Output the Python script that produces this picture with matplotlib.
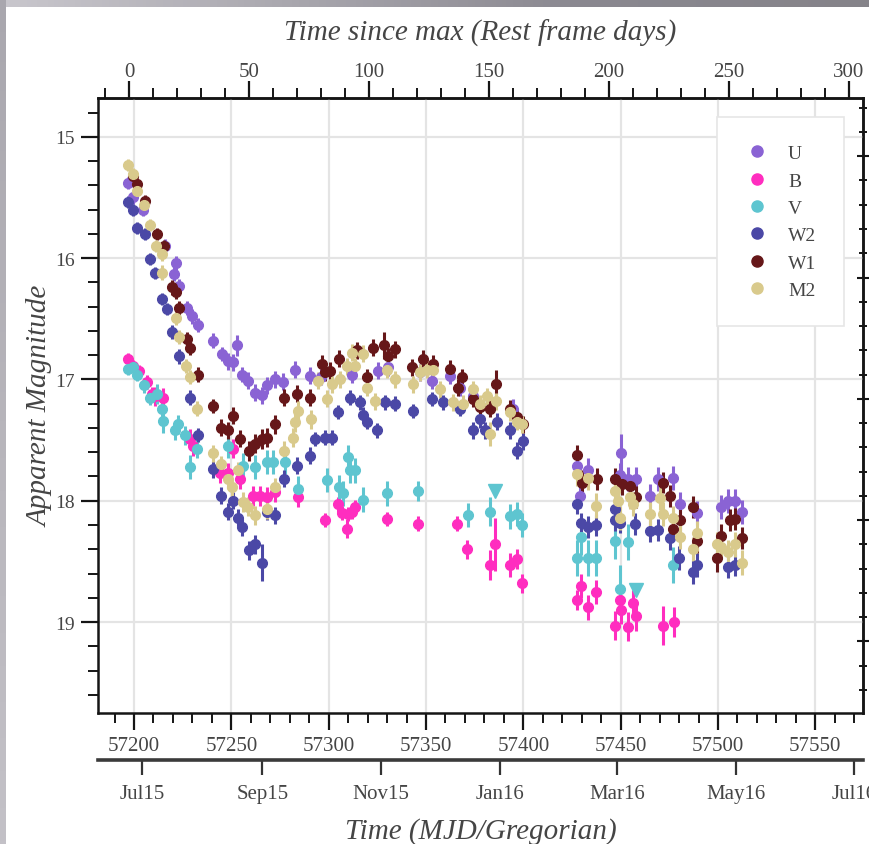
import datetime as dt
import numpy as np
import matplotlib
matplotlib.use('Agg')
import matplotlib.pyplot as plt
from matplotlib.lines import Line2D
from matplotlib.ticker import MultipleLocator, NullLocator
from matplotlib.colors import LinearSegmentedColormap

plt.rcParams['font.family'] = ['Liberation Serif', 'DejaVu Serif']

# ---------------- data ----------------
T0 = 57197.5      # MJD of maximum
Z = 0.2326        # redshift for rest-frame axis
MU_OFFSET = 41.16 # offset of right-hand magnitude ticks

band_names = ['U', 'B', 'V', 'W2', 'W1', 'M2']
band_colors = ['#8a63d4', '#ff2dbf', '#5ec5d0', '#4b48a6', '#661719', '#d9ca8c']

u_mjd = [57196.8, 57199.6, 57204.8, 57215.9, 57220.5, 57221.6, 57223.3, 57227.4, 57229.6, 57232.7,
         57240.7, 57245.0, 57248.4, 57251.0, 57253.1, 57255.3, 57258.7, 57262.1, 57265.6, 57268.2,
         57272.4, 57276.7, 57282.7, 57290.4, 57296.0, 57311.8, 57325.5, 57330.6, 57346.9, 57352.9,
         57362.3, 57367.4, 57374.3, 57394.8, 57427.7, 57429.1, 57433.3, 57450.0, 57449.6, 57453.9,
         57457.8, 57465.0, 57469.3, 57477.0, 57480.4, 57489.0, 57501.8, 57505.2, 57508.7, 57512.1]
u_mag = [15.38, 15.50, 15.60, 15.90, 16.13, 16.04, 16.23, 16.41, 16.48, 16.55,
         16.68, 16.79, 16.85, 16.86, 16.72, 16.96, 17.01, 17.11, 17.13, 17.05,
         17.00, 17.02, 16.92, 16.97, 16.98, 16.96, 16.93, 16.90, 16.94, 17.01,
         16.97, 17.07, 17.14, 17.24, 17.71, 17.96, 17.75, 17.61, 17.79, 17.82,
         17.82, 17.96, 17.82, 17.81, 18.03, 18.10, 18.05, 18.00, 18.00, 18.09]
u_err = [0.05, 0.05, 0.05, 0.06, 0.06, 0.06, 0.06, 0.06, 0.06, 0.06,
         0.06, 0.06, 0.07, 0.07, 0.09, 0.06, 0.07, 0.07, 0.07, 0.07,
         0.07, 0.07, 0.07, 0.07, 0.07, 0.07, 0.07, 0.07, 0.07, 0.07,
         0.07, 0.07, 0.07, 0.08, 0.10, 0.10, 0.10, 0.16, 0.10, 0.10,
         0.10, 0.10, 0.10, 0.10, 0.10, 0.10, 0.10, 0.10, 0.10, 0.10]

b_mjd = [57196.8, 57199.6, 57202.7, 57206.5, 57209.1, 57210.8, 57215.0, 57228.8, 57230.5, 57244.2,
         57248.4, 57251.0, 57254.4, 57261.3, 57264.7, 57268.2, 57272.4, 57284.4, 57298.1, 57304.9,
         57306.7, 57309.2, 57309.9, 57311.8, 57313.5, 57329.8, 57346.0, 57365.7, 57370.9, 57382.8,
         57385.4, 57393.1, 57396.6, 57399.1, 57427.4, 57429.4, 57433.3, 57437.3, 57447.0, 57449.6,
         57450.1, 57453.9, 57456.1, 57457.8, 57471.9, 57477.3]
b_mag = [16.83, 16.89, 16.93, 17.02, 17.12, 17.14, 17.15, 17.49, 17.55, 17.77,
         17.77, 17.57, 17.82, 17.96, 17.96, 17.97, 17.93, 17.97, 18.16, 18.03,
         18.10, 18.23, 18.11, 18.09, 18.05, 18.15, 18.19, 18.19, 18.40, 18.53,
         18.36, 18.53, 18.48, 18.68, 18.82, 18.70, 18.88, 18.75, 19.03, 18.82,
         18.90, 19.04, 18.84, 18.95, 19.03, 19.00]
b_err = [0.05, 0.05, 0.05, 0.06, 0.06, 0.08, 0.08, 0.08, 0.08, 0.08,
         0.08, 0.08, 0.08, 0.08, 0.08, 0.08, 0.08, 0.08, 0.06, 0.06,
         0.06, 0.08, 0.06, 0.06, 0.06, 0.06, 0.06, 0.06, 0.08, 0.12,
         0.22, 0.10, 0.08, 0.08, 0.08, 0.10, 0.10, 0.10, 0.12, 0.12,
         0.12, 0.12, 0.10, 0.12, 0.16, 0.12]

v_mjd = [57196.8, 57199.6, 57201.4, 57205.3, 57208.2, 57211.7, 57214.2, 57214.9, 57221.1, 57222.8,
         57226.2, 57228.8, 57232.2, 57248.4, 57256.1, 57262.1, 57268.2, 57271.5, 57277.6, 57284.4,
         57299.0, 57305.5, 57307.5, 57310.1, 57310.9, 57313.5, 57317.8, 57329.8, 57346.0, 57371.4,
         57382.8, 57393.1, 57396.6, 57399.1, 57427.4, 57429.4, 57433.3, 57437.3, 57447.0, 57449.6,
         57453.9, 57477.0]
v_mag = [16.91, 16.90, 16.96, 17.05, 17.15, 17.12, 17.24, 17.34, 17.42, 17.37,
         17.46, 17.72, 17.57, 17.55, 17.71, 17.72, 17.68, 17.68, 17.68, 17.90,
         17.83, 17.89, 17.94, 17.64, 17.75, 17.75, 17.99, 17.94, 17.92, 18.12,
         18.09, 18.13, 18.11, 18.20, 18.47, 18.30, 18.47, 18.47, 18.33, 18.73,
         18.34, 18.53]
v_err = [0.05, 0.05, 0.05, 0.06, 0.06, 0.08, 0.08, 0.10, 0.08, 0.08,
         0.08, 0.10, 0.08, 0.10, 0.10, 0.10, 0.10, 0.10, 0.10, 0.10,
         0.10, 0.10, 0.10, 0.10, 0.10, 0.10, 0.10, 0.10, 0.08, 0.10,
         0.12, 0.10, 0.10, 0.10, 0.15, 0.15, 0.15, 0.15, 0.15, 0.20,
         0.15, 0.15]
vlim_mjd = [57385.4, 57457.8]
vlim_mag = [17.92, 18.74]

w2_mjd = [57196.8, 57199.6, 57201.4, 57205.6, 57208.2, 57210.8, 57214.2, 57216.8, 57219.4, 57223.3,
          57228.8, 57232.7, 57240.7, 57244.5, 57248.4, 57251.0, 57253.6, 57255.3, 57259.1, 57262.1,
          57265.6, 57268.2, 57272.4, 57277.2, 57283.6, 57290.4, 57293.0, 57298.1, 57301.5, 57304.9,
          57310.9, 57316.1, 57317.8, 57319.5, 57324.7, 57328.9, 57334.1, 57343.5, 57352.9, 57358.9,
          57367.4, 57374.3, 57377.7, 57380.3, 57386.3, 57393.1, 57396.6, 57399.6,
          57427.4, 57429.4, 57433.3, 57437.3, 57447.0, 57447.3, 57449.6, 57457.3, 57465.0, 57469.3,
          57475.3, 57480.1, 57487.3, 57489.0, 57505.2, 57508.7]
w2_mag = [15.54, 15.60, 15.75, 15.80, 16.01, 16.12, 16.34, 16.42, 16.61, 16.81,
          17.15, 17.46, 17.74, 17.96, 18.09, 18.00, 18.14, 18.22, 18.41, 18.36,
          18.51, 18.09, 18.12, 17.82, 17.71, 17.63, 17.49, 17.48, 17.48, 17.27,
          17.15, 17.19, 17.29, 17.35, 17.42, 17.19, 17.20, 17.26, 17.16, 17.19,
          17.24, 17.42, 17.33, 17.42, 17.35, 17.42, 17.59, 17.51,
          18.03, 18.18, 18.22, 18.20, 18.07, 18.16, 18.18, 18.19, 18.25, 18.24,
          18.31, 18.47, 18.59, 18.53, 18.55, 18.53]
w2_err = [0.05, 0.05, 0.05, 0.05, 0.05, 0.05, 0.05, 0.05, 0.06, 0.06,
          0.06, 0.06, 0.07, 0.07, 0.07, 0.07, 0.07, 0.07, 0.08, 0.08,
          0.15, 0.07, 0.07, 0.07, 0.07, 0.07, 0.06, 0.06, 0.06, 0.06,
          0.06, 0.06, 0.06, 0.06, 0.06, 0.06, 0.06, 0.06, 0.06, 0.06,
          0.06, 0.07, 0.07, 0.07, 0.07, 0.07, 0.07, 0.07,
          0.08, 0.08, 0.09, 0.09, 0.09, 0.09, 0.09, 0.09, 0.09, 0.09,
          0.10, 0.10, 0.10, 0.10, 0.09, 0.09]

w1_mjd = [57199.6, 57201.4, 57205.6, 57211.7, 57215.4, 57219.4, 57221.6, 57223.3, 57227.4, 57228.8,
          57232.7, 57240.7, 57244.5, 57248.4, 57250.7, 57254.4, 57259.2, 57262.1, 57265.6, 57268.2,
          57272.4, 57277.0, 57283.6, 57290.4, 57296.4, 57298.1, 57300.7, 57305.5, 57314.4, 57319.5,
          57322.9, 57328.4, 57330.6, 57334.1, 57342.6, 57348.6, 57353.7, 57362.3, 57366.6, 57368.3,
          57374.3, 57377.7, 57382.8, 57385.9, 57393.1, 57396.6, 57400.0,
          57427.4, 57430.0, 57437.7, 57447.0, 57450.5, 57454.7, 57458.1, 57471.7, 57475.3, 57477.0,
          57480.4, 57487.3, 57489.0, 57499.3, 57501.8, 57506.1, 57508.7, 57512.1]
w1_mag = [15.32, 15.39, 15.53, 15.80, 15.90, 16.24, 16.28, 16.41, 16.67, 16.74,
          16.96, 17.22, 17.40, 17.42, 17.30, 17.49, 17.59, 17.53, 17.49, 17.48,
          17.37, 17.15, 17.12, 17.15, 16.87, 16.94, 16.93, 16.83, 16.76, 16.98,
          16.74, 16.72, 16.81, 16.75, 16.90, 16.83, 16.87, 16.91, 17.07, 16.98,
          17.16, 17.23, 17.24, 17.04, 17.24, 17.31, 17.37,
          17.62, 17.85, 17.82, 17.82, 17.86, 17.88, 17.97, 17.85, 17.96, 18.23,
          18.16, 18.05, 18.33, 18.47, 18.29, 18.16, 18.15, 18.31]
w1_err = [0.05, 0.05, 0.05, 0.05, 0.05, 0.06, 0.06, 0.06, 0.06, 0.06,
          0.06, 0.06, 0.07, 0.07, 0.07, 0.07, 0.08, 0.08, 0.08, 0.08,
          0.08, 0.07, 0.07, 0.07, 0.07, 0.07, 0.07, 0.07, 0.07, 0.07,
          0.07, 0.11, 0.07, 0.07, 0.07, 0.07, 0.07, 0.07, 0.07, 0.07,
          0.07, 0.07, 0.07, 0.12, 0.07, 0.07, 0.07,
          0.08, 0.10, 0.09, 0.09, 0.09, 0.09, 0.09, 0.09, 0.09, 0.09,
          0.09, 0.09, 0.10, 0.12, 0.10, 0.09, 0.09, 0.09]

m2_mjd = [57196.8, 57199.3, 57201.4, 57205.3, 57208.2, 57211.3, 57214.2, 57214.5, 57221.6, 57223.3,
          57226.7, 57228.8, 57232.2, 57240.7, 57244.5, 57248.4, 57250.2, 57253.6, 57256.1, 57258.7,
          57262.1, 57268.2, 57272.4, 57277.0, 57281.8, 57282.7, 57284.4, 57290.8, 57294.7, 57299.0,
          57301.5, 57305.8, 57309.2, 57311.8, 57313.5, 57317.8, 57319.5, 57323.8, 57329.8, 57334.1,
          57343.5, 57346.9, 57350.3, 57353.7, 57357.2, 57364.0, 57369.1, 57374.3, 57377.7, 57381.1,
          57382.8, 57385.9, 57393.1, 57396.6, 57399.1,
          57427.7, 57433.3, 57437.3, 57447.0, 57448.7, 57449.6, 57454.7, 57456.4, 57465.0, 57470.1,
          57471.9, 57477.0, 57480.4, 57487.3, 57489.0, 57499.3, 57501.8, 57505.2, 57508.7, 57512.1]
m2_mag = [15.23, 15.31, 15.45, 15.56, 15.73, 15.90, 15.97, 16.12, 16.49, 16.65,
          16.89, 16.98, 17.24, 17.61, 17.70, 17.82, 17.89, 17.75, 18.01, 18.05,
          18.12, 18.07, 17.89, 17.59, 17.48, 17.35, 17.26, 17.33, 17.01, 17.16,
          17.04, 17.00, 16.89, 16.78, 16.89, 16.79, 17.07, 17.18, 16.92, 17.00,
          17.04, 16.94, 16.92, 16.92, 17.08, 17.19, 17.20, 17.08, 17.20, 17.14,
          17.45, 17.18, 17.27, 17.35, 17.37,
          17.78, 17.81, 18.04, 17.92, 18.00, 18.14, 17.97, 18.03, 18.11, 17.98,
          18.11, 18.14, 18.30, 18.40, 18.27, 18.36, 18.38, 18.42, 18.36, 18.51]
m2_err = [0.05, 0.05, 0.05, 0.05, 0.05, 0.05, 0.05, 0.06, 0.06, 0.06,
          0.06, 0.06, 0.06, 0.07, 0.07, 0.08, 0.08, 0.07, 0.08, 0.08,
          0.08, 0.08, 0.08, 0.08, 0.08, 0.08, 0.08, 0.08, 0.07, 0.07,
          0.07, 0.07, 0.07, 0.07, 0.07, 0.07, 0.07, 0.07, 0.07, 0.07,
          0.07, 0.07, 0.07, 0.07, 0.07, 0.07, 0.07, 0.07, 0.07, 0.07,
          0.10, 0.07, 0.07, 0.07, 0.07,
          0.10, 0.10, 0.10, 0.10, 0.10, 0.10, 0.10, 0.10, 0.10, 0.10,
          0.10, 0.10, 0.10, 0.10, 0.10, 0.10, 0.10, 0.10, 0.10, 0.10]

greg_dates = ['2015-07-01', '2015-09-01', '2015-11-01', '2016-01-01',
              '2016-03-01', '2016-05-01', '2016-07-01']
greg_labels = ['Jul15', 'Sep15', 'Nov15', 'Jan16', 'Mar16', 'May16', 'Jul16']

# ---------------- figure ----------------
TXT = '#454545'
SPINE = '#151515'
W, H = 869, 845
fig = plt.figure(figsize=(W / 100, H / 100), dpi=100)

# screenshot-like grey frame (top and left strips)
grad = np.linspace(0, 1, 256)[None, :]
axt = fig.add_axes([0, 1 - 8 / H, 1, 8 / H], zorder=-5)
cm_top = LinearSegmentedColormap.from_list('top', ['#c9c7cd', '#a9a7ae', '#8a8890', '#858389'])
axt.imshow(grad, aspect='auto', cmap=cm_top, extent=[0, 1, 0, 1])
axt.set_axis_off()
axl = fig.add_axes([0, 0, 6 / W, 1], zorder=-5)
cm_left = LinearSegmentedColormap.from_list('left', ['#a9a7ae', '#b7b5bb', '#c3c1c7'])
axl.imshow(grad.T, aspect='auto', cmap=cm_left, extent=[0, 1, 0, 1])
axl.set_axis_off()

L, R, T, B = 98, 863, 99, 714
ax = fig.add_axes([L / W, (H - B) / H, (R - L) / W, (B - T) / H])
ax.set_xlim(57181.5, 57574.5)
ax.set_ylim(19.75, 14.68)
ax.set_axisbelow(True)
ax.grid(True, which='major', color='#e4e4e4', lw=1.6)

series = [
    (u_mjd, u_mag, u_err),
    (b_mjd, b_mag, b_err),
    (v_mjd, v_mag, v_err),
    (w2_mjd, w2_mag, w2_err),
    (w1_mjd, w1_mag, w1_err),
    (m2_mjd, m2_mag, m2_err),
]
for (x, y, e), c in zip(series, band_colors):
    ax.errorbar(x, y, yerr=e, fmt='o', color=c, mec=c, ms=7, elinewidth=2.2,
                capsize=0, zorder=3)
ax.plot(vlim_mjd, vlim_mag, 'v', color=band_colors[2], ms=10, zorder=3, ls='none')

# main axis ticks
ax.xaxis.set_major_locator(MultipleLocator(50))
ax.xaxis.set_minor_locator(MultipleLocator(10))
ax.yaxis.set_major_locator(MultipleLocator(1))
ax.yaxis.set_minor_locator(MultipleLocator(0.2))
ax.tick_params(axis='both', which='major', direction='out', length=12, width=1.6,
               color=SPINE, labelcolor=TXT)
ax.tick_params(axis='both', which='minor', direction='out', length=7, width=1.4, color=SPINE)
ax.tick_params(axis='x', labelsize=15, pad=4.5)
ax.tick_params(axis='y', labelsize=14, pad=4.5)
ax.tick_params(top=False, right=False, which='both')
for s in ax.spines.values():
    s.set_linewidth(1.8)
    s.set_color(SPINE)

ax.set_ylabel('Apparent Magnitude', fontsize=21, fontstyle='italic', color=TXT, labelpad=1)

# right-hand unlabelled magnitude axis
sec_r = ax.secondary_yaxis('right', functions=(lambda m: m - MU_OFFSET, lambda M: M + MU_OFFSET))
sec_r.yaxis.set_major_locator(MultipleLocator(1))
sec_r.yaxis.set_minor_locator(MultipleLocator(0.2))
sec_r.tick_params(which='major', direction='inout', length=9, width=1.5, color=SPINE, labelright=False)
sec_r.tick_params(which='minor', direction='inout', length=6, width=1.4, color=SPINE)
sec_r.spines['right'].set_linewidth(1.8)
sec_r.spines['right'].set_color(SPINE)

# top axis: rest-frame days since max
sec_t = ax.secondary_xaxis('top', functions=(lambda m: (m - T0) / (1 + Z),
                                              lambda t: t * (1 + Z) + T0))
sec_t.xaxis.set_major_locator(MultipleLocator(50))
sec_t.xaxis.set_minor_locator(MultipleLocator(10))
sec_t.tick_params(which='major', direction='out', length=12, width=1.6, color=SPINE,
                  labelcolor=TXT, labelsize=15, pad=0)
sec_t.tick_params(which='minor', direction='out', length=7, width=1.4, color=SPINE)
sec_t.spines['top'].set_linewidth(1.8)
sec_t.spines['top'].set_color(SPINE)
sec_t.set_xlabel('Time since max (Rest frame days)', fontsize=21, fontstyle='italic',
                 color=TXT, labelpad=16)

# Gregorian axis below
mjd_epoch = dt.date(1858, 11, 17)
greg_mjd = [(dt.date.fromisoformat(d) - mjd_epoch).days for d in greg_dates]
sec_g = ax.secondary_xaxis(-(761 - B) / (B - T))
sec_g.set_xticks(greg_mjd)
sec_g.set_xticklabels(greg_labels)
sec_g.xaxis.set_minor_locator(NullLocator())
sec_g.tick_params(which='major', direction='out', length=11, width=1.6, color='#333333',
                  labelcolor=TXT, labelsize=15, pad=6.5)
sec_g.spines['bottom'].set_linewidth(2.6)
sec_g.spines['bottom'].set_color('#3a3a3a')
sec_g.set_xlabel('Time (MJD/Gregorian)', fontsize=21, fontstyle='italic', color=TXT, labelpad=10)

# legend
handles = [Line2D([], [], ls='none', marker='o', ms=8, color=c, mec=c, label=n)
           for n, c in zip(band_names, band_colors)]
leg = ax.legend(handles=handles, loc='upper right', fontsize=14, frameon=True, fancybox=False,
                edgecolor='#e6e6e6', framealpha=1, borderpad=1.4, labelspacing=0.5,
                handletextpad=0.9, borderaxespad=1.0, handlelength=1.35, labelcolor=TXT)
leg.get_frame().set_linewidth(1.2)

fig.savefig('out.png', dpi=100)
